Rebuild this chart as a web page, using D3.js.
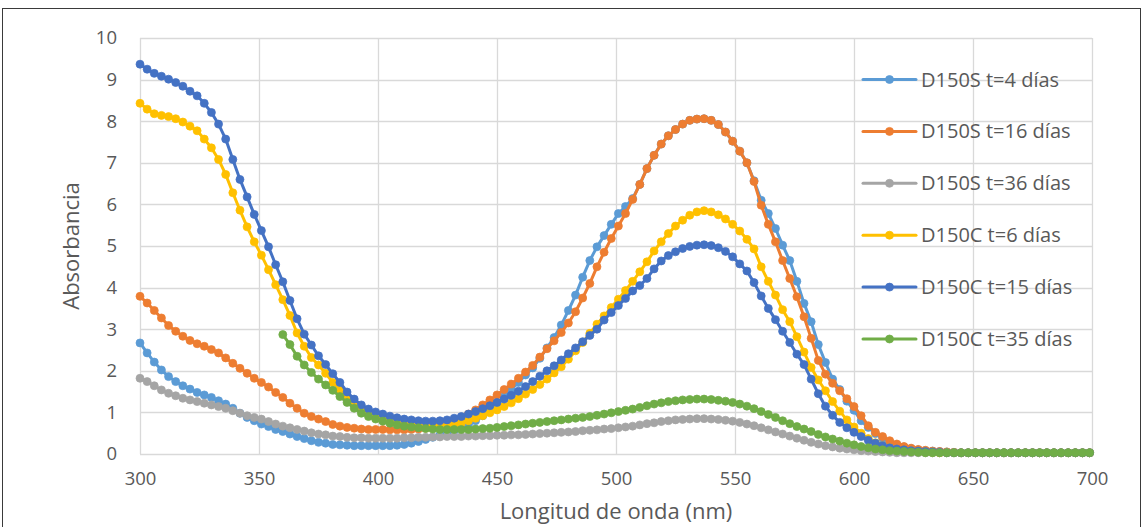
<!DOCTYPE html>
<html>
<head>
<meta charset="utf-8">
<script src="https://cdn.jsdelivr.net/npm/d3@7"></script>
<style>
  html, body { margin: 0; padding: 0; background: #fff; }
  svg { display: block; font-family: "Open Sans", "DejaVu Sans", sans-serif; }
</style>
</head>
<body>
<svg id="chart" width="1143" height="527"></svg>
<script>
// Wavelength grid (nm)
const wavelength = [300,303,306,309,312,315,318,321,324,327,330,333,336,339,342,345,348,351,354,357,
  360,363,366,369,372,375,378,381,384,387,390,393,396,399,402,405,408,411,414,417,
  420,423,426,429,432,435,438,441,444,447,450,453,456,459,462,465,468,471,474,477,
  480,483,486,489,492,495,498,501,504,507,510,513,516,519,522,525,528,531,534,537,
  540,543,546,549,552,555,558,561,564,567,570,573,576,579,582,585,588,591,594,597,
  600,603,606,609,612,615,618,621,624,627,630,633,636,639,642,645,648,651,654,657,
  660,663,666,669,672,675,678,681,684,687,690,693,696,699];

// Absorbance, D150S t=4 días
const absS4 = [
  2.67,2.43,2.21,2.02,1.86,1.74,1.64,1.56,1.48,1.42,1.36,1.28,1.20,1.10,0.98,0.88,0.80,0.72,0.66,0.59,
  0.54,0.48,0.42,0.37,0.32,0.28,0.26,0.23,0.22,0.21,0.20,0.20,0.20,0.20,
  0.20,0.20,0.21,0.23,0.26,0.30,0.35,0.40,0.45,0.50,0.56,0.62,0.70,0.80,0.92,1.06,1.22,1.38,1.55,1.72,
  1.90,2.07,2.30,2.55,2.80,3.10,3.45,3.82,4.25,4.65,4.98,
  5.25,5.52,5.78,5.95,6.14,6.48,6.86,7.18,7.45,7.65,7.80,7.93,8.02,8.05,8.06,8.02,7.92,7.74,7.52,7.28,
  7.00,6.57,6.10,5.78,5.42,5.02,4.65,4.15,3.62,3.18,
  2.63,2.20,1.80,1.55,1.27,1.05,0.80,0.64,0.49,0.38,0.29,0.22,0.17,0.13,0.10,0.08,0.07,0.06,0.05,0.04,
  0.03,0.03,0.03,0.03,0.03,0.03,0.03,0.03,0.03,0.03,0.03,0.03,0.03,0.03,0.03,0.03,0.03,0.03,0.03];

// Absorbance, D150S t=16 días
const absS16 = [
  3.79,3.63,3.45,3.27,3.09,2.95,2.83,2.73,2.65,2.59,2.51,2.43,2.31,2.18,2.06,1.94,1.82,1.72,1.61,1.48,
  1.36,1.22,1.10,0.98,0.90,0.84,0.78,0.71,0.67,0.64,0.62,0.60,0.59,0.59,
  0.59,0.58,0.58,0.58,0.59,0.60,0.62,0.65,0.69,0.74,0.80,0.87,0.96,1.06,1.18,1.30,1.42,1.55,1.68,1.82,
  1.97,2.13,2.33,2.53,2.72,2.92,3.15,3.42,3.75,4.10,4.50,
  4.85,5.18,5.48,5.78,6.12,6.48,6.86,7.18,7.45,7.65,7.80,7.93,8.02,8.05,8.06,8.02,7.92,7.74,7.52,7.28,
  7.00,6.55,5.98,5.52,5.10,4.65,4.22,3.78,3.30,2.78,
  2.25,1.92,1.70,1.52,1.33,1.14,0.92,0.68,0.52,0.42,0.32,0.24,0.18,0.14,0.11,0.09,0.07,0.06,0.05,0.04,
  0.03,0.03,0.03,0.03,0.03,0.03,0.03,0.03,0.03,0.03,0.03,0.03,0.03,0.03,0.03,0.03,0.03,0.03,0.03];

// Absorbance, D150S t=36 días
const absS36 = [
  1.82,1.74,1.64,1.54,1.46,1.40,1.34,1.30,1.26,1.22,1.18,1.14,1.10,1.04,0.98,0.92,0.88,0.84,0.78,0.72,
  0.67,0.63,0.59,0.55,0.51,0.48,0.46,0.43,0.42,0.40,0.39,0.39,0.38,0.38,
  0.38,0.38,0.38,0.39,0.39,0.40,0.40,0.41,0.41,0.42,0.42,0.42,0.43,0.43,0.44,0.44,0.45,0.45,0.46,0.46,
  0.47,0.48,0.49,0.50,0.51,0.52,0.53,0.54,0.56,0.57,0.58,
  0.60,0.61,0.63,0.65,0.67,0.70,0.73,0.75,0.78,0.80,0.82,0.83,0.84,0.85,0.85,0.84,0.83,0.81,0.79,0.76,
  0.72,0.68,0.63,0.58,0.53,0.48,0.43,0.38,0.33,0.28,
  0.24,0.20,0.17,0.14,0.12,0.10,0.08,0.07,0.06,0.05,0.04,
  0.03,0.03,0.03,0.03,0.03,0.03,0.03,0.03,0.03,0.03,0.03,0.03,0.03,0.03,0.03,0.03,0.03,0.03,0.03,0.03,
  0.03,0.03,0.03,0.03,0.03,0.03,0.03,0.03];

// Absorbance, D150C t=6 días
const absC6 = [
  8.43,8.29,8.18,8.14,8.11,8.06,7.98,7.88,7.77,7.57,7.36,7.08,6.72,6.28,5.86,5.46,5.10,4.78,4.43,4.07,
  3.71,3.33,2.91,2.59,2.32,2.14,1.94,1.72,1.54,1.38,1.24,1.12,1.02,0.94,
  0.86,0.80,0.75,0.72,0.69,0.67,0.66,0.66,0.66,0.68,0.71,0.75,0.80,0.86,0.92,0.99,1.06,1.14,1.23,1.33,
  1.44,1.55,1.67,1.80,1.95,2.10,2.28,2.48,2.68,2.90,3.12,
  3.32,3.52,3.72,3.93,4.15,4.38,4.62,4.88,5.10,5.30,5.48,5.62,5.74,5.82,5.85,5.82,5.75,5.65,5.52,5.36,
  5.16,4.93,4.50,4.15,3.82,3.47,3.18,2.82,2.45,2.08,
  1.78,1.52,1.26,1.03,0.82,0.65,0.50,0.37,0.27,0.20,0.15,0.11,0.09,0.07,0.06,0.05,0.04,
  0.03,0.03,0.03,0.03,0.03,0.03,0.03,0.03,0.03,0.03,0.03,0.03,0.03,0.03,0.03,0.03,0.03,0.03,0.03,0.03,
  0.03,0.03];

// Absorbance, D150C t=15 días
const absC15 = [
  9.37,9.25,9.15,9.08,9.01,8.93,8.84,8.72,8.61,8.43,8.21,7.93,7.57,7.08,6.60,6.18,5.76,5.37,4.98,4.55,
  4.14,3.69,3.25,2.88,2.62,2.36,2.15,1.93,1.72,1.49,1.32,1.18,1.08,1.01,
  0.96,0.91,0.87,0.84,0.82,0.80,0.79,0.79,0.80,0.82,0.86,0.90,0.96,1.02,1.09,1.16,1.24,1.32,1.41,1.51,
  1.62,1.74,1.87,2.00,2.12,2.26,2.41,2.55,2.70,2.85,3.00,
  3.22,3.40,3.57,3.74,3.92,4.05,4.22,4.45,4.64,4.77,4.86,4.94,4.99,5.02,5.03,5.01,4.96,4.87,4.74,4.57,
  4.40,4.12,3.80,3.50,3.23,2.95,2.68,2.40,2.15,1.80,
  1.45,1.15,0.93,0.76,0.63,0.52,0.42,0.33,0.26,0.20,0.15,0.12,0.10,0.08,0.07,0.06,0.05,0.04,
  0.03,0.03,0.03,0.03,0.03,0.03,0.03,0.03,0.03,0.03,0.03,0.03,0.03,0.03,0.03,0.03,0.03,0.03,0.03,0.03,
  0.03];

// Absorbance, D150C t=35 días (measured from 360 nm)
const absC35 = [
  null,null,null,null,null,null,null,null,null,null,null,null,null,null,null,null,null,null,null,null,
  2.87,2.63,2.35,2.14,1.96,1.80,1.66,1.53,1.38,1.24,1.10,0.98,0.90,0.84,
  0.79,0.74,0.70,0.67,0.65,0.63,0.61,0.60,0.59,0.59,0.59,0.59,0.59,0.60,0.61,0.62,0.64,0.66,0.68,0.70,
  0.72,0.74,0.76,0.78,0.80,0.82,0.84,0.86,0.88,0.90,0.93,
  0.96,0.99,1.02,1.05,1.08,1.12,1.16,1.20,1.23,1.26,1.28,1.30,1.31,1.32,1.32,1.31,1.29,1.27,1.24,1.20,
  1.15,1.09,1.02,0.95,0.88,0.80,0.73,0.66,0.60,0.54,
  0.47,0.41,0.36,0.31,0.26,0.22,0.18,0.15,0.12,0.10,0.08,0.07,0.06,0.05,0.04,
  0.03,0.03,0.03,0.03,0.03,0.03,0.03,0.03,0.03,0.03,0.03,0.03,0.03,0.03,0.03,0.03,0.03,0.03,0.03,0.03,
  0.03,0.03,0.03,0.03];

const seriesNames = ["D150S t=4 días", "D150S t=16 días", "D150S t=36 días",
                     "D150C t=6 días", "D150C t=15 días", "D150C t=35 días"];
const seriesValues = [absS4, absS16, absS36, absC6, absC15, absC35];
const seriesColors = ["#5B9BD5", "#ED7D31", "#A5A5A5", "#FFC000", "#4472C4", "#70AD47"];

const xTicks = [300, 350, 400, 450, 500, 550, 600, 650, 700];
const yTicks = [0, 1, 2, 3, 4, 5, 6, 7, 8, 9, 10];

const svg = d3.select("#chart");
const W = 1143, H = 527;
const plot = { left: 140, right: 1092, top: 38, bottom: 454 };
const textColor = "#595959";
const gridColor = "#D9D9D9";
const markerR = 4;
const lineW = 3;

seriesValues.forEach((v, i) => {
  if (v.length !== wavelength.length) console.error("length mismatch", seriesNames[i], v.length);
});

const x = d3.scaleLinear().domain([300, 700]).range([plot.left, plot.right]);
const y = d3.scaleLinear().domain([0, 10]).range([plot.bottom, plot.top]);

// outer chart frame
svg.append("rect")
  .attr("x", 2.5).attr("y", 8.5)
  .attr("width", W - 5).attr("height", H)
  .attr("fill", "#fff").attr("stroke", "#3a3a3a").attr("stroke-width", 1);

// gridlines
const grid = svg.append("g");
grid.selectAll("line.h").data(yTicks).join("line")
  .attr("x1", plot.left).attr("x2", plot.right)
  .attr("y1", d => Math.round(y(d)) + 0.5).attr("y2", d => Math.round(y(d)) + 0.5)
  .attr("stroke", gridColor).attr("stroke-width", 1.3);
grid.selectAll("line.v").data(xTicks).join("line")
  .attr("y1", plot.top).attr("y2", plot.bottom)
  .attr("x1", d => Math.round(x(d)) + 0.5).attr("x2", d => Math.round(x(d)) + 0.5)
  .attr("stroke", gridColor).attr("stroke-width", 1.3);

// axes (labels only, lines drawn by the grid)
const xAxis = svg.append("g")
  .attr("transform", `translate(0,${plot.bottom})`)
  .call(d3.axisBottom(x).tickValues(xTicks).tickSize(0).tickPadding(18).tickFormat(d3.format("d")));
const yAxis = svg.append("g")
  .attr("transform", `translate(${plot.left},0)`)
  .call(d3.axisLeft(y).tickValues(yTicks).tickSize(0).tickPadding(23).tickFormat(d3.format("d")));
[xAxis, yAxis].forEach(a => {
  a.select(".domain").remove();
  a.selectAll("text")
    .attr("fill", textColor)
    .style("font-family", '"Open Sans", sans-serif')
    .style("font-size", "18.5px");
});

// axis titles
svg.append("text")
  .attr("x", (plot.left + plot.right) / 2).attr("y", 519)
  .attr("text-anchor", "middle")
  .attr("fill", textColor).style("font-size", "22px")
  .text("Longitud de onda (nm)");
svg.append("text")
  .attr("transform", `translate(79,${(plot.top + plot.bottom) / 2}) rotate(-90)`)
  .attr("text-anchor", "middle")
  .attr("fill", textColor).style("font-size", "22px")
  .text("Absorbancia");

// series
const line = d3.line()
  .defined(d => d.v != null)
  .x(d => x(d.w)).y(d => y(d.v));

const seriesG = svg.append("g");
seriesValues.forEach((vals, i) => {
  const pts = wavelength.map((w, j) => ({ w, v: vals[j] }));
  const g = seriesG.append("g");
  g.append("path")
    .attr("d", line(pts))
    .attr("fill", "none")
    .attr("stroke", seriesColors[i])
    .attr("stroke-width", lineW)
    .attr("stroke-linejoin", "round")
    .attr("stroke-linecap", "round");
  g.selectAll("circle").data(pts.filter(d => d.v != null)).join("circle")
    .attr("cx", d => x(d.w)).attr("cy", d => y(d.v))
    .attr("r", markerR)
    .attr("fill", seriesColors[i])
    .attr("stroke", seriesColors[i]).attr("stroke-width", 0.75);
});

// legend
const legend = svg.append("g");
const legendTop = 79.5, legendStep = 51.9;
seriesNames.forEach((name, i) => {
  const cy = legendTop + i * legendStep;
  const g = legend.append("g");
  g.append("line")
    .attr("x1", 863).attr("x2", 916).attr("y1", cy).attr("y2", cy)
    .attr("stroke", seriesColors[i]).attr("stroke-width", lineW).attr("stroke-linecap", "round");
  g.append("circle")
    .attr("cx", 889.5).attr("cy", cy).attr("r", markerR)
    .attr("fill", seriesColors[i]).attr("stroke", seriesColors[i]).attr("stroke-width", 0.75);
  g.append("text")
    .attr("x", 921).attr("y", cy).attr("dy", "0.35em")
    .attr("fill", textColor).style("font-size", "20px")
    .text(name);
});
</script>
</body>
</html>
